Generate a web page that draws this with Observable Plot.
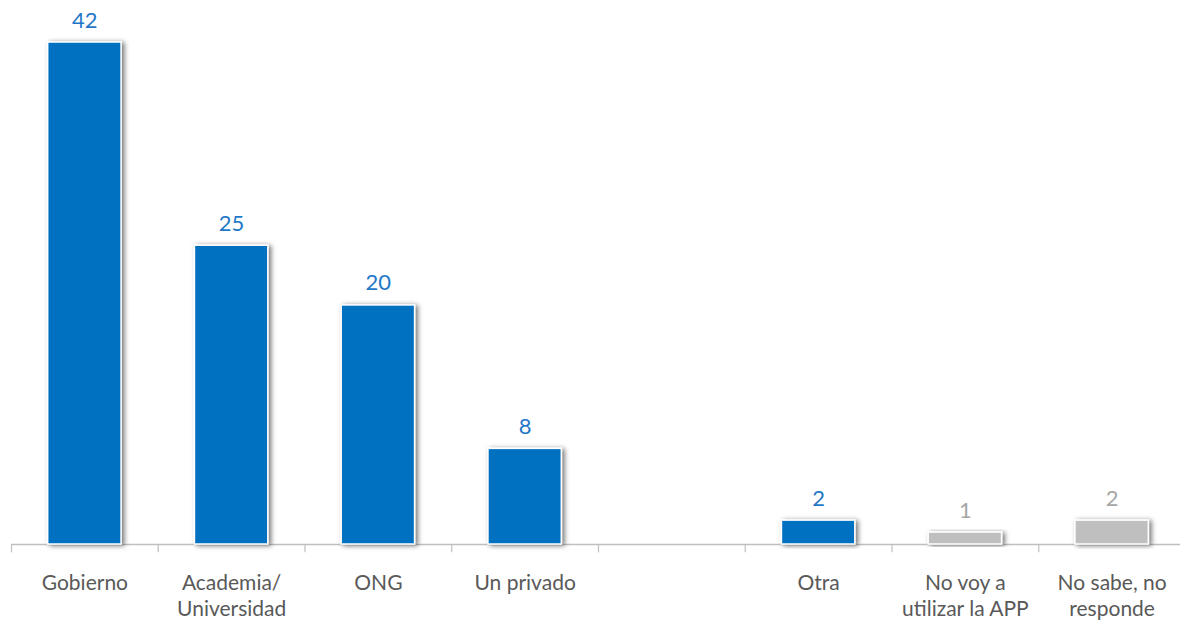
<!DOCTYPE html>
<html>
<head>
<meta charset="utf-8">
<script src="https://cdn.jsdelivr.net/npm/d3@7"></script>
<script src="https://cdn.jsdelivr.net/npm/@observablehq/plot@0.6"></script>
<style>
  html, body { margin: 0; padding: 0; background: #fff; }
  #chart { width: 1180px; height: 622px; overflow: hidden; }
</style>
</head>
<body>
<div id="chart"></div>
<script>
const categories = ["Gobierno", "Academia/Universidad", "ONG", "Un privado", "(vacío)", "Otra", "No voy a utilizar la APP", "No sabe, no responde"];
const tickLabels = ["Gobierno", "Academia/\nUniversidad", "ONG", "Un privado", "", "Otra", "No voy a\nutilizar la APP", "No sabe, no\nresponde"];
const values = [42, 25, 20, 8, null, 2, 1, 2];
const groups = ["respuesta", "respuesta", "respuesta", "respuesta", null, "respuesta", "excluida", "excluida"];

const barColor = {respuesta: "#0070C0", excluida: "#BFBFBF"};
const labelColor = {respuesta: "#1F77C8", excluida: "#A6A6A6"};

const data = categories
  .map((c, i) => ({category: c, value: values[i], group: groups[i]}))
  .filter(d => d.value != null);

const W = 1180, H = 622, ML = 11, MR = -5;
const step = (W - ML - MR) / categories.length;

const chart = Plot.plot({
  width: W,
  height: H,
  marginLeft: ML,
  marginRight: MR,
  marginTop: 42,
  marginBottom: 78,
  style: {background: "white", fontFamily: "Lato, 'Open Sans', sans-serif"},
  x: {domain: categories, paddingInner: 0.5, paddingOuter: 0.25, round: false, axis: null},
  y: {domain: [0, 42], axis: null},
  marks: [
    Plot.ruleY([0], {stroke: "#BFBFBF", strokeWidth: 1.3}),
    Plot.ruleX(categories, {x: d => d, dx: -step / 2, y1: 0, y2: -0.7, stroke: "#BFBFBF", strokeWidth: 1.2}),
    Plot.barY(data, {x: "category", y: "value", fill: d => barColor[d.group], stroke: "white", strokeWidth: 1.5}),
    Plot.text(data, {x: "category", y: "value", text: d => String(d.value), dy: -22, fill: d => labelColor[d.group], fontSize: 22}),
    Plot.text(categories, {x: d => d, y: 0, text: (d, i) => tickLabels[i], dy: 26, lineAnchor: "top", lineHeight: 1.28, fill: "#595959", fontSize: 21})
  ]
});

const ns = "http://www.w3.org/2000/svg";
const defs = document.createElementNS(ns, "defs");
defs.innerHTML = '<filter id="barShadow" x="-20%" y="-20%" width="140%" height="140%"><feDropShadow dx="2.5" dy="1" stdDeviation="2.5" flood-color="#000" flood-opacity="0.55"/></filter>';
chart.insertBefore(defs, chart.firstChild);
chart.querySelectorAll("g[aria-label='bar'] rect").forEach(r => r.setAttribute("filter", "url(#barShadow)"));

document.getElementById("chart").appendChild(chart);
</script>
</body>
</html>
